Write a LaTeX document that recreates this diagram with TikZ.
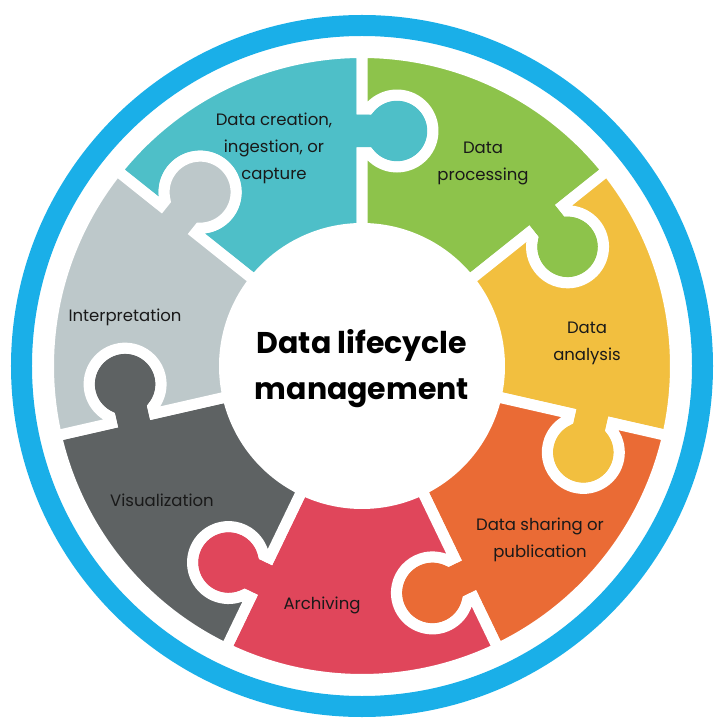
\documentclass[tikz,border=0pt]{standalone}
\usepackage{fontspec}
\setmainfont{Poppins}

\definecolor{cblue}{HTML}{1AAFE8}
\definecolor{cteal}{HTML}{4EBFC8}
\definecolor{cgreen}{HTML}{8DC34B}
\definecolor{cyellow}{HTML}{F2BF3F}
\definecolor{corange}{HTML}{EA6B35}
\definecolor{cred}{HTML}{E0465B}
\definecolor{cdark}{HTML}{5E6263}
\definecolor{clight}{HTML}{BDC8CA}

% ring and tab sizes (in pt)
\newcommand\pzIn{137.5}
\newcommand\pzOut{313.5}
\newcommand\pzMid{235}
\newcommand\pzKnob{36}
\newcommand\pzOff{35}
\newcommand\pzNeck{22}

\begin{document}
\begin{tikzpicture}[x=1pt,y=1pt,
	piece/.style={draw=white,line width=11pt},
	ring/.style={draw=cblue,line width=21pt},
	lbl/.style={font=\fontsize{16.5}{27}\selectfont,text=black!90,align=center},
	heading/.style={font=\fontsize{30}{46}\selectfont\bfseries,align=center}]
	
	%\draw[help lines,step=50] (-350,-350) grid (350,350);
	\useasboundingbox (-362,-359) rectangle (357,366);
	
	\draw[ring] (0,0) circle[radius=340.5];
	
	\pgfmathsetmacro\pzYn{\pzOff-sqrt(\pzKnob*\pzKnob-\pzNeck*\pzNeck)}
	\pgfmathsetmacro\pzBeta{asin(\pzNeck/\pzKnob)}
	\pgfmathsetmacro\pzLo{\pzMid-\pzNeck}
	\pgfmathsetmacro\pzHi{\pzMid+\pzNeck}
	
	% seven pieces, tab on the clockwise edge, hole on the other one
	\foreach \col [count=\k from 0] in {cteal,cgreen,cyellow,corange,cred,cdark,clight} {
		\pgfmathsetmacro\edgeA{90-\k*360/7}
		\pgfmathsetmacro\edgeB{\edgeA+360/7}
		\pgfmathsetmacro\sideA{\edgeA-90}
		\pgfmathsetmacro\sideB{\edgeB-90}
		\pgfmathsetmacro\tabS{\edgeA+90+\pzBeta}
		\pgfmathsetmacro\tabE{\edgeA+450-\pzBeta}
		\pgfmathsetmacro\holeS{\edgeB+450-\pzBeta}
		\pgfmathsetmacro\holeE{\edgeB+90+\pzBeta}
		\filldraw[piece,fill=\col]
			(\edgeA:\pzIn) -- (\edgeA:\pzLo) -- ++(\sideA:\pzYn)
			arc[start angle=\tabS,end angle=\tabE,radius=\pzKnob]
			-- (\edgeA:\pzHi) -- (\edgeA:\pzOut)
			arc[start angle=\edgeA,end angle=\edgeB,radius=\pzOut]
			-- (\edgeB:\pzHi) -- ++(\sideB:\pzYn)
			arc[start angle=\holeS,end angle=\holeE,radius=\pzKnob]
			-- (\edgeB:\pzLo) -- (\edgeB:\pzIn)
			arc[start angle=\edgeB,end angle=\edgeA,radius=\pzIn] -- cycle;
	}
	
	\node[heading] (hub) at (0,-3) {Data lifecycle\\management};
	
	\node[lbl] (create) at (-88,218) {Data creation,\\ingestion, or\\capture};
	\node[lbl] (process) at (121,203) {Data\\processing};
	\node[lbl] (analyse) at (225,23) {Data\\analysis};
	\node[lbl] (share) at (178,-174) {Data sharing or\\publication};
	\node[lbl] (archive) at (-40,-239) {Archiving};
	\node[lbl] (visual) at (-200,-134) {Visualization};
	\node[lbl] (interpret) at (-237,49) {Interpretation};
	
\end{tikzpicture}
\end{document}
